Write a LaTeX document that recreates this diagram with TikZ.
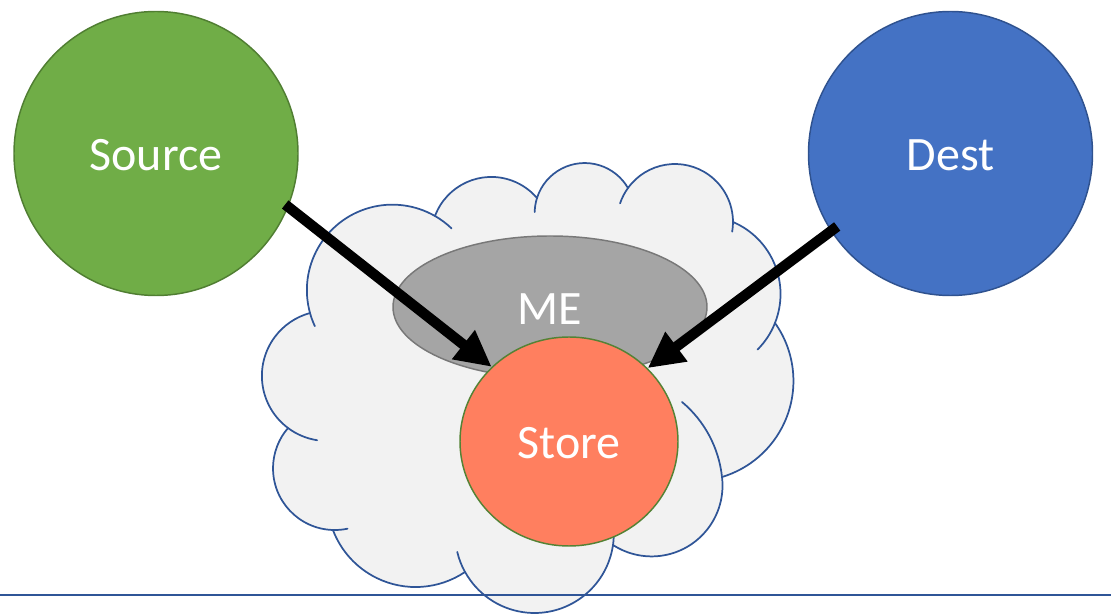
\documentclass[tikz,border=0pt]{standalone}
\usepackage{fontspec}
\setmainfont{Carlito}
\usetikzlibrary{arrows.meta,shapes.geometric}

\definecolor{srcgreen}{HTML}{70AD47}
\definecolor{srcedge}{HTML}{507E32}
\definecolor{dstblue}{HTML}{4472C4}
\definecolor{dstedge}{HTML}{2F528F}
\definecolor{megray}{HTML}{A5A5A5}
\definecolor{meedge}{HTML}{787878}
\definecolor{storefill}{HTML}{FF7F5F}
\definecolor{storeedge}{HTML}{548235}
\definecolor{cloudfill}{HTML}{F2F2F2}
\definecolor{cloudedge}{HTML}{2F5597}

\tikzset{
  label text/.style={text=white, font=\fontsize{36}{43}\selectfont, inner sep=0pt,
                     text height=26pt, text depth=0pt},
  bigdisc/.style={circle, minimum size=213pt, line width=1.1pt, label text},
  cloudline/.style={draw=cloudedge, line width=1.3pt, line join=round, line cap=round},
  flow/.style={line width=7.8pt, -{Triangle[length=27pt,width=26pt]}},
  groundline/.style={draw=cloudedge, line width=1.5pt}
}

\begin{document}
\begin{tikzpicture}[x=0.75pt, y=-0.75pt]
\useasboundingbox (0,0) rectangle (1111,616);

% cloud outline: one circular bump between each pair of junctions
\path[cloudline, fill=cloudfill]
  (288,428) arc[start angle=126.8, end angle=254.9, radius=65.1]
  -- (310,313) arc[start angle=164.5, end angle=299.9, radius=85.5]
  -- (435,216) arc[start angle=200.5, end angle=319.4, radius=60.1]
  -- (537,198) arc[start angle=197.5, end angle=330, radius=50]
  -- (628,188) arc[start angle=215.9, end angle=360, radius=58]
  -- (733,222) arc[start angle=293.2, end angle=381.6, radius=78.4]
  -- (775,323) arc[start angle=324.7, end angle=433.3, radius=100.3]
  -- (722,477) arc[start angle=353.1, end angle=483, radius=70.9]
  -- (613,545) arc[start angle=8.2, end angle=151.1, radius=79.3]
  -- (465,572) arc[start angle=56.1, end angle=159.1, radius=88.5]
  -- (333,530) arc[start angle=91.6, end angle=220.8, radius=61.7]
  -- cycle;

% short inner strokes of the cloud
\draw[cloudline] (288,428) arc[start angle=126.8, end angle=98.7, radius=65.1];
\draw[cloudline] (310,313) arc[start angle=164.5, end angle=155.1, radius=85.5];
\draw[cloudline] (435,216) arc[start angle=299.9, end angle=313.8, radius=85.5];
\draw[cloudline] (537,198) arc[start angle=197.5, end angle=181.1, radius=50];
\draw[cloudline] (628,188) arc[start angle=215.9, end angle=198.7, radius=58];
\draw[cloudline] (733,222) arc[start angle=0, end angle=9.6, radius=58];
\draw[cloudline] (775,323) arc[start angle=21.6, end angle=45, radius=78.4];
\draw[cloudline] (722,477) arc[start angle=353.9, end angle=310, radius=113.6];
\draw[cloudline] (613,545) arc[start angle=8.2, end angle=2.3, radius=79.3];
\draw[cloudline] (465,572) arc[start angle=151.1, end angle=166.7, radius=79.3];
\draw[cloudline] (333,530) arc[start angle=91.6, end angle=78, radius=61.7];

% nodes
\node[ellipse, fill=megray, draw=meedge, line width=1.1pt,
      minimum width=235.5pt, minimum height=106.5pt, label text] (me) at (550,307) {ME};
\node[ellipse, fill=storefill, draw=storeedge, line width=1.1pt,
      minimum width=163.5pt, minimum height=156.75pt, label text] (store) at (569,441.5) {Store};
\node[bigdisc, fill=srcgreen, draw=srcedge] (src) at (156,153.5) {Source};
\node[bigdisc, fill=dstblue, draw=dstedge] (dst) at (950.5,153.5) {Dest};

% connectors
\draw[flow, shorten <=-3pt] (src.-22.6) -- (store.136.3);
\draw[flow, shorten <=-6pt] (dst.213.5) -- (store.43.7);

% ground line
\coordinate (g0) at (0,595);
\coordinate (g1) at (1111,595);
\draw[groundline] (g0) -- (g1);
\end{tikzpicture}
\end{document}
